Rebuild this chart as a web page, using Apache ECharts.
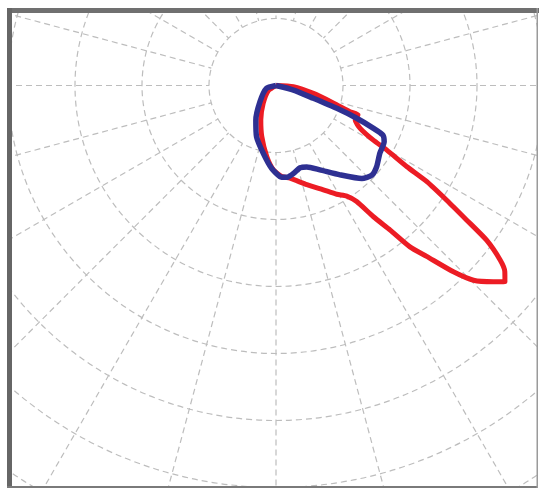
<!DOCTYPE html>
<html>
<head>
<meta charset="utf-8">
<script src="https://cdn.jsdelivr.net/npm/echarts@6/dist/echarts.min.js"></script>
<style>
html,body{margin:0;padding:0;background:#fff;}
#chart{width:539px;height:490px;}
</style>
</head>
<body>
<div id="chart"></div>
<script>
// Angles: degrees from nadir (0 = down), positive toward the right side
const redAngles = [90, 86, 78, 73, 70.5, 70.3, 66.4, 63, 60.7, 59.8, 58.2, 57.5, 56.1, 54.8, 53.7, 52.1, 50.9, 49.4, 47.9, 45.4, 43.6, 41.4, 39.7, 38.3, 36.6, 34.8, 32.6, 29.2, 24.4, 17.3, 8.6, 3.6, -1.8, -7.4, -15.6, -23.9, -35.5, -56, -90];
const redValues = [0, 26, 57, 90, 117, 130, 129, 141, 166, 191, 230, 267, 307, 348, 390, 424, 440, 450, 437, 414, 384, 340, 313, 275, 244, 211, 196, 186, 171, 155, 140, 136, 126, 107, 79, 56, 33, 14, 0];
const blueAngles = [90, 75.4, 71.1, 69.4, 67.9, 66.3, 65.1, 62.5, 56.9, 51.1, 46.9, 42.7, 35.6, 27.5, 20.7, 16.3, 11.1, 6.6, 2.5, -3.0, -10.6, -20.7, -30.1, -44.6, -73.2, -90];
const blueValues = [0, 27, 59, 97, 130, 159, 176, 182, 185, 193, 196, 189, 164, 142, 130, 128, 134, 138, 136, 124, 103, 82, 60, 34, 15, 0];
const ringStep = 100;
const ringMax = 1000;

function toPolar(vals, angs){
  return vals.map((v,i)=>[v, (angs[i]+360)%360]);
}

const chart = echarts.init(document.getElementById('chart'), null, {renderer:'canvas'});
const CX = 276, CY = 85.5, RPX = 670, R0 = RPX*ringStep/ringMax;
const dash = {color:'#bdbdbd', width:1.2, type:[6,4]};
chart.setOption({
  backgroundColor:'#ffffff',
  animation:false,
  polar:[
    {center:[CX,CY], radius:[R0,RPX]},
    {center:[CX,CY], radius:[0,RPX]}
  ],
  angleAxis:[
    {polarIndex:0, type:'value', min:0, max:360, interval:15, startAngle:270, clockwise:false,
     axisLine:{show:false}, axisTick:{show:false}, axisLabel:{show:false},
     splitLine:{show:true, lineStyle:dash}},
    {polarIndex:1, type:'value', min:0, max:360, interval:15, startAngle:270, clockwise:false,
     axisLine:{show:false}, axisTick:{show:false}, axisLabel:{show:false}, splitLine:{show:false}}
  ],
  radiusAxis:[
    {polarIndex:0, type:'value', min:ringStep, max:ringMax, interval:ringStep,
     axisLine:{show:false}, axisTick:{show:false}, axisLabel:{show:false},
     splitLine:{show:true, lineStyle:dash}},
    {polarIndex:1, type:'value', min:0, max:ringMax,
     axisLine:{show:false}, axisTick:{show:false}, axisLabel:{show:false}, splitLine:{show:false}}
  ],
  series:[
    {type:'line', coordinateSystem:'polar', polarIndex:1, data:toPolar(redValues, redAngles),
     symbol:'none', smooth:0.2, lineStyle:{color:'#ec1c24', width:5, join:'round'}, z:3},
    {type:'line', coordinateSystem:'polar', polarIndex:1, data:toPolar(blueValues, blueAngles),
     symbol:'none', smooth:0.2, lineStyle:{color:'#2e3092', width:5.5, join:'round'}, z:4}
  ],
  graphic:[
    {type:'rect', shape:{x:0,y:0,width:539,height:8}, style:{fill:'#fff'}, z:100, silent:true},
    {type:'rect', shape:{x:0,y:0,width:7,height:490}, style:{fill:'#fff'}, z:100, silent:true},
    {type:'rect', shape:{x:0,y:488,width:539,height:2}, style:{fill:'#fff'}, z:100, silent:true},
    {type:'rect', shape:{x:538,y:0,width:1,height:490}, style:{fill:'#fff'}, z:100, silent:true},
    {type:'rect', shape:{x:7,y:8,width:532,height:5}, style:{fill:'#707070'}, z:101, silent:true},
    {type:'rect', shape:{x:7,y:8,width:5,height:480}, style:{fill:'#666666'}, z:101, silent:true},
    {type:'rect', shape:{x:7,y:486,width:531,height:2}, style:{fill:'#7a7a7a'}, z:101, silent:true},
    {type:'rect', shape:{x:536.5,y:8,width:1.5,height:480}, style:{fill:'#9a9a9a'}, z:101, silent:true}
  ]
});
</script>
</body>
</html>
